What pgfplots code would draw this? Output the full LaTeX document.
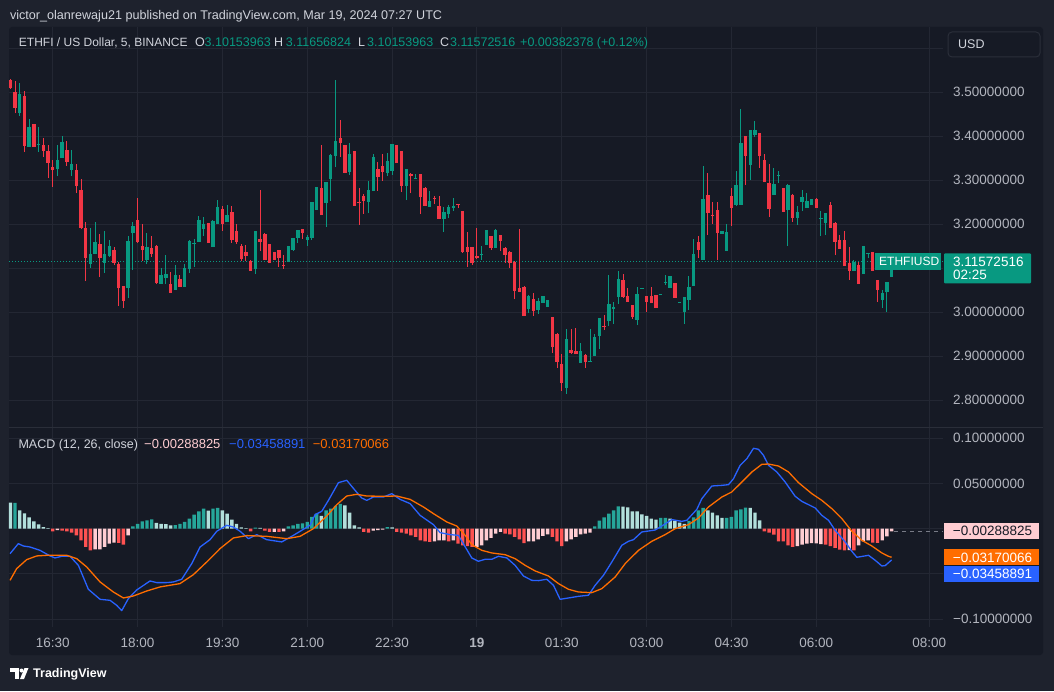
\documentclass[border=0pt]{standalone}
\usepackage{pgfplots}
\pgfplotsset{compat=1.18}
\usepackage{pgfplotstable}
\usepackage{fontspec}
\setmainfont{Liberation Sans}
\definecolor{bgouter}{HTML}{1E222D}
\definecolor{bgchart}{HTML}{161A25}
\definecolor{gridc}{HTML}{232733}
\definecolor{sepc}{HTML}{2A2E39}
\definecolor{axtext}{HTML}{B2B5BE}
\definecolor{hdr}{HTML}{D1D4DC}
\definecolor{tvgreen}{HTML}{089981}
\definecolor{tvred}{HTML}{F23645}
\definecolor{hG}{HTML}{26A69A}
\definecolor{hGL}{HTML}{B2DFDB}
\definecolor{hR}{HTML}{FF5252}
\definecolor{hRL}{HTML}{FFCDD2}
\definecolor{macdc}{HTML}{2962FF}
\definecolor{sigc}{HTML}{FF6D00}
\definecolor{dashc}{HTML}{787B86}

\pgfplotstableread{
n o h l c
3 3.454 3.521 3.447 3.496
5 3.376 3.439 3.376 3.422
7 3.381 3.421 3.364 3.383
11 3.326 3.380 3.310 3.346
12 3.351 3.401 3.351 3.387
14 3.324 3.369 3.310 3.337
18 3.110 3.192 3.101 3.133
19 3.133 3.205 3.133 3.160
21 3.112 3.185 3.089 3.133
22 3.128 3.164 3.126 3.151
26 3.055 3.174 3.033 3.162
27 3.180 3.205 3.096 3.196
30 3.119 3.180 3.110 3.148
33 3.064 3.101 3.064 3.085
34 3.078 3.130 3.064 3.087
36 3.051 3.108 3.051 3.085
38 3.058 3.110 3.058 3.101
39 3.099 3.164 3.089 3.162
40 3.156 3.167 3.103 3.157
41 3.160 3.219 3.160 3.210
42 3.189 3.217 3.174 3.201
44 3.148 3.210 3.148 3.208
45 3.201 3.255 3.201 3.239
47 3.205 3.244 3.205 3.221
53 3.099 3.185 3.087 3.185
60 3.114 3.151 3.114 3.151
61 3.142 3.169 3.139 3.169
62 3.169 3.187 3.158 3.187
64 3.164 3.176 3.151 3.171
65 3.169 3.251 3.164 3.251
66 3.233 3.285 3.233 3.285
68 3.249 3.296 3.194 3.296
69 3.303 3.360 3.253 3.358
70 3.355 3.528 3.330 3.389
73 3.319 3.385 3.312 3.360
77 3.251 3.299 3.226 3.278
78 3.276 3.360 3.276 3.353
81 3.317 3.362 3.310 3.344
82 3.322 3.383 3.312 3.383
85 3.287 3.326 3.255 3.326
87 3.304 3.314 3.303 3.305
90 3.239 3.276 3.239 3.253
93 3.212 3.239 3.183 3.228
94 3.224 3.244 3.215 3.239
95 3.237 3.260 3.230 3.242
101 3.130 3.151 3.119 3.133
102 3.153 3.187 3.153 3.187
104 3.146 3.189 3.146 3.187
111 3.008 3.039 2.999 3.037
113 3.005 3.033 2.996 3.026
114 3.021 3.037 3.021 3.037
115 3.012 3.028 3.012 3.028
119 2.828 2.962 2.814 2.939
122 2.885 2.930 2.885 2.912
124 2.888 2.962 2.887 2.889
125 2.901 2.951 2.901 2.944
126 2.946 2.987 2.917 2.987
128 2.980 3.085 2.969 3.019
129 3.008 3.024 2.974 3.012
130 3.035 3.094 3.019 3.076
134 2.983 3.058 2.971 3.042
135 3.054 3.056 3.053 3.055
139 3.040 3.041 3.040 3.041
140 3.066 3.085 3.062 3.069
141 3.055 3.083 3.055 3.083
143 3.023 3.024 3.023 3.024
144 3.001 3.035 2.974 3.035
145 3.028 3.083 3.005 3.058
146 3.060 3.167 3.060 3.133
148 3.119 3.333 3.119 3.258
152 3.178 3.185 3.178 3.185
153 3.139 3.201 3.139 3.183
155 3.244 3.321 3.242 3.289
156 3.244 3.462 3.244 3.385
158 3.335 3.414 3.301 3.414
159 3.403 3.435 3.399 3.414
163 3.267 3.328 3.267 3.292
164 3.311 3.321 3.294 3.312
166 3.233 3.292 3.151 3.289
168 3.215 3.242 3.199 3.228
169 3.251 3.278 3.230 3.262
170 3.237 3.271 3.237 3.253
171 3.244 3.258 3.244 3.258
173 3.213 3.230 3.174 3.215
174 3.203 3.226 3.176 3.226
180 3.094 3.119 3.094 3.114
182 3.087 3.151 3.087 3.151
183 3.133 3.135 3.124 3.135
186 3.028 3.051 3.010 3.044
187 3.046 3.069 3.001 3.069
188 3.080 3.117 3.080 3.116
}\upC

\pgfplotstableread{
n o h l c
1 3.528 3.530 3.508 3.509
2 3.501 3.526 3.452 3.465
4 3.492 3.503 3.364 3.378
6 3.428 3.428 3.376 3.376
8 3.380 3.396 3.353 3.367
9 3.367 3.380 3.305 3.339
10 3.330 3.346 3.285 3.324
13 3.369 3.389 3.333 3.342
15 3.324 3.337 3.271 3.287
16 3.278 3.303 3.189 3.192
17 3.192 3.205 3.071 3.124
20 3.155 3.178 3.080 3.124
23 3.142 3.148 3.108 3.112
24 3.110 3.114 3.014 3.055
25 3.060 3.060 3.010 3.026
28 3.210 3.260 3.158 3.160
29 3.151 3.201 3.117 3.142
31 3.146 3.173 3.126 3.133
32 3.151 3.153 3.064 3.067
35 3.064 3.092 3.044 3.044
37 3.076 3.085 3.058 3.058
43 3.203 3.203 3.158 3.158
46 3.235 3.242 3.185 3.201
48 3.228 3.242 3.158 3.164
49 3.185 3.201 3.155 3.160
50 3.151 3.155 3.117 3.121
51 3.137 3.153 3.117 3.128
52 3.117 3.119 3.094 3.094
54 3.167 3.278 3.139 3.160
55 3.178 3.180 3.119 3.119
56 3.155 3.155 3.112 3.112
57 3.137 3.137 3.119 3.119
58 3.142 3.142 3.103 3.124
59 3.108 3.130 3.099 3.106
63 3.189 3.189 3.167 3.180
67 3.283 3.380 3.221 3.221
71 3.396 3.437 3.353 3.385
72 3.380 3.380 3.317 3.317
74 3.367 3.367 3.242 3.242
75 3.251 3.283 3.199 3.249
76 3.264 3.269 3.224 3.253
79 3.326 3.342 3.276 3.308
80 3.333 3.360 3.299 3.319
83 3.380 3.380 3.339 3.339
84 3.367 3.367 3.274 3.287
86 3.314 3.317 3.271 3.310
88 3.314 3.314 3.224 3.262
89 3.283 3.285 3.242 3.242
91 3.260 3.264 3.246 3.259
92 3.242 3.264 3.212 3.212
96 3.246 3.246 3.237 3.244
97 3.230 3.230 3.135 3.137
98 3.148 3.183 3.103 3.137
99 3.148 3.148 3.108 3.112
100 3.128 3.192 3.121 3.124
103 3.174 3.174 3.142 3.146
105 3.176 3.176 3.139 3.162
106 3.146 3.148 3.112 3.130
107 3.137 3.139 3.101 3.112
108 3.114 3.117 3.030 3.049
109 3.055 3.189 3.046 3.046
110 3.058 3.060 2.992 2.992
112 3.030 3.044 2.992 3.003
116 2.989 2.989 2.908 2.921
117 2.951 2.953 2.874 2.887
118 2.883 2.905 2.821 2.839
120 2.914 2.962 2.905 2.908
121 2.912 2.964 2.905 2.905
123 2.903 2.905 2.874 2.887
127 2.969 2.994 2.960 2.967
131 3.074 3.087 3.033 3.035
132 3.037 3.055 3.024 3.024
133 3.017 3.017 2.985 2.989
136 3.037 3.037 3.001 3.024
137 3.037 3.058 3.021 3.021
138 3.039 3.039 3.010 3.010
142 3.067 3.067 3.033 3.033
147 3.160 3.174 3.124 3.142
149 3.267 3.317 3.176 3.226
150 3.221 3.251 3.201 3.219
151 3.233 3.251 3.119 3.180
154 3.264 3.283 3.196 3.237
157 3.401 3.401 3.289 3.355
160 3.408 3.408 3.328 3.355
161 3.346 3.360 3.296 3.296
162 3.294 3.337 3.217 3.235
165 3.283 3.283 3.228 3.228
167 3.267 3.269 3.205 3.215
172 3.258 3.260 3.237 3.237
175 3.244 3.251 3.192 3.192
176 3.203 3.205 3.130 3.160
177 3.164 3.176 3.144 3.144
178 3.164 3.185 3.105 3.105
179 3.112 3.148 3.074 3.094
181 3.108 3.114 3.064 3.064
184 3.137 3.137 3.094 3.094
185 3.074 3.074 3.024 3.051
}\downC

\pgfplotstableread{
n v
2 0.0284
27 0.0026
28 0.0052
29 0.0081
30 0.0092
31 0.0103
36 0.0040
37 0.0052
38 0.0074
39 0.0111
40 0.0155
41 0.0192
42 0.0221
44 0.0221
45 0.0229
53 0.0011
60 0.0026
61 0.0037
62 0.0052
63 0.0059
64 0.0074
65 0.0129
66 0.0166
68 0.0203
69 0.0221
70 0.0251
71 0.0273
81 0.0018
125 0.0026
126 0.0088
127 0.0125
128 0.0166
129 0.0203
130 0.0247
139 0.0118
140 0.0120
145 0.0085
146 0.0125
147 0.0203
148 0.0229
153 0.0120
154 0.0129
155 0.0203
156 0.0214
157 0.0232
}\histG

\pgfplotstableread{
n v
1 0.0288
3 0.0203
4 0.0170
5 0.0125
6 0.0081
7 0.0048
8 0.0018
9 0.0007
32 0.0063
33 0.0052
34 0.0050
35 0.0037
43 0.0199
46 0.0203
47 0.0166
48 0.0100
49 0.0052
50 0.0015
51 0.0007
54 0.0009
67 0.0140
72 0.0258
73 0.0177
74 0.0037
75 0.0015
82 0.0015
131 0.0245
132 0.0236
133 0.0192
134 0.0190
135 0.0159
136 0.0140
137 0.0111
138 0.0100
141 0.0111
142 0.0085
143 0.0066
144 0.0052
149 0.0203
150 0.0177
151 0.0148
152 0.0118
158 0.0230
159 0.0177
160 0.0092
}\histGL

\pgfplotstableread{
n v
10 -0.0029
12 -0.0022
13 -0.0029
14 -0.0044
15 -0.0074
16 -0.0129
17 -0.0203
18 -0.0240
24 -0.0158
25 -0.0177
52 -0.0029
55 -0.0022
56 -0.0037
58 -0.0037
76 -0.0037
77 -0.0044
83 -0.0037
84 -0.0044
85 -0.0055
86 -0.0074
87 -0.0092
88 -0.0129
89 -0.0140
90 -0.0147
94 -0.0140
96 -0.0166
97 -0.0184
98 -0.0192
99 -0.0203
106 -0.0055
107 -0.0063
108 -0.0092
109 -0.0118
110 -0.0159
116 -0.0092
117 -0.0140
118 -0.0192
161 -0.0029
162 -0.0044
163 -0.0066
164 -0.0140
165 -0.0142
166 -0.0184
167 -0.0203
174 -0.0177
175 -0.0192
176 -0.0214
177 -0.0232
178 -0.0240
180 -0.0240
184 -0.0155
185 -0.0157
}\histR

\pgfplotstableread{
n v
11 -0.0015
19 -0.0229
20 -0.0229
21 -0.0203
22 -0.0166
23 -0.0155
26 -0.0074
57 -0.0035
59 -0.0029
78 -0.0022
79 -0.0015
80 -0.0011
91 -0.0140
92 -0.0129
93 -0.0129
95 -0.0129
100 -0.0203
101 -0.0184
102 -0.0129
103 -0.0103
104 -0.0055
105 -0.0037
111 -0.0140
112 -0.0140
113 -0.0118
114 -0.0081
115 -0.0063
119 -0.0140
120 -0.0118
121 -0.0092
122 -0.0063
123 -0.0055
124 -0.0044
168 -0.0192
169 -0.0177
170 -0.0166
171 -0.0159
172 -0.0162
173 -0.0170
179 -0.0238
181 -0.0184
182 -0.0140
183 -0.0129
186 -0.0129
187 -0.0085
188 -0.0029
}\histRL

\pgfplotstableread{
n v
0.94 -0.0277
2.70 -0.0166
3.77 -0.0192
5.18 -0.0203
7.30 -0.0240
9.43 -0.0302
10.49 -0.0324
11.90 -0.0306
13.67 -0.0306
15.44 -0.0406
17.56 -0.0671
20.04 -0.0782
22.16 -0.0793
23.57 -0.0848
24.64 -0.0907
26.05 -0.0774
27.82 -0.0678
30.65 -0.0579
32.06 -0.0597
34.18 -0.0597
35.60 -0.0590
37.37 -0.0560
39.49 -0.0387
41.26 -0.0203
43.38 -0.0122
44.80 -0.0029
46.92 0.0037
48.33 0.0018
49.75 -0.0029
51.52 -0.0111
53.29 -0.0066
55.41 -0.0122
58.59 -0.0147
61.07 -0.0074
63.19 -0.0007
64.60 0.0037
65.67 0.0155
67.08 0.0192
68.50 0.0313
70.62 0.0509
72.38 0.0535
74.15 0.0424
75.57 0.0339
76.63 0.0313
78.04 0.0350
80.17 0.0350
81.94 0.0387
83.70 0.0324
85.83 0.0277
87.95 0.0147
90.78 0.0044
92.19 -0.0044
94.31 -0.0066
96.08 -0.0074
97.50 -0.0200
98.91 -0.0324
100.33 -0.0361
101.74 -0.0339
103.16 -0.0339
104.57 -0.0306
106.34 -0.0324
108.11 -0.0406
109.88 -0.0524
111.65 -0.0572
113.06 -0.0575
114.83 -0.0560
116.25 -0.0627
117.66 -0.0782
119.43 -0.0767
121.55 -0.0749
123.67 -0.0737
125.09 -0.0627
126.86 -0.0516
128.63 -0.0369
130.75 -0.0184
132.16 -0.0140
133.22 -0.0122
134.99 -0.0037
137.82 -0.0015
139.24 0.0029
141.36 0.0100
143.48 0.0081
144.54 0.0092
146.67 0.0214
147.73 0.0332
149.85 0.0472
151.97 0.0479
153.39 0.0487
154.45 0.0553
155.86 0.0701
157.28 0.0774
158.69 0.0889
159.75 0.0878
160.81 0.0811
161.88 0.0701
163.64 0.0627
165.41 0.0516
167.53 0.0358
168.95 0.0302
171.78 0.0229
173.19 0.0147
174.61 0.0092
176.02 -0.0018
178.15 -0.0147
179.56 -0.0251
180.62 -0.0317
183.10 -0.0295
184.51 -0.0350
185.93 -0.0413
186.63 -0.0409
188.00 -0.0346
}\macdT

\pgfplotstableread{
n v
0.94 -0.0572
2.35 -0.0442
4.47 -0.0343
6.60 -0.0302
8.72 -0.0295
12.96 -0.0295
15.09 -0.0332
17.21 -0.0424
20.04 -0.0590
22.87 -0.0701
24.99 -0.0767
27.11 -0.0745
29.94 -0.0690
32.77 -0.0645
37.01 -0.0608
39.84 -0.0509
42.67 -0.0369
45.50 -0.0221
48.33 -0.0103
51.16 -0.0077
55.41 -0.0085
59.65 -0.0111
62.48 -0.0085
65.31 0.0000
68.14 0.0140
70.26 0.0265
72.38 0.0361
74.51 0.0380
76.63 0.0361
80.17 0.0358
82.99 0.0361
85.83 0.0324
88.65 0.0240
90.78 0.0166
93.61 0.0074
95.73 0.0029
97.50 -0.0074
98.91 -0.0177
101.04 -0.0240
103.16 -0.0269
105.99 -0.0288
108.11 -0.0332
110.23 -0.0406
112.36 -0.0468
115.19 -0.0524
117.31 -0.0608
119.43 -0.0671
121.55 -0.0701
124.38 -0.0708
126.50 -0.0664
129.33 -0.0535
131.46 -0.0387
134.29 -0.0240
137.11 -0.0140
139.94 -0.0066
142.07 0.0000
144.90 0.0044
147.02 0.0118
149.14 0.0240
151.97 0.0350
154.09 0.0406
156.22 0.0516
158.34 0.0627
160.46 0.0712
161.88 0.0715
164.00 0.0693
166.12 0.0627
168.24 0.0509
171.07 0.0387
173.19 0.0313
175.32 0.0221
177.44 0.0111
179.56 -0.0029
181.68 -0.0129
183.81 -0.0192
185.93 -0.0269
187.34 -0.0306
188.00 -0.0317
}\sigT

\newcommand{\fs}[1]{\fontsize{#1}{#1}\selectfont}

\begin{document}
\begin{tikzpicture}[x=1pt,y=1pt]
% backgrounds
\fill[bgouter] (0,0) rectangle (1054,691);
\fill[bgchart, rounded corners=3pt] (9,36) rectangle (1043,664);

% ---------------- main price pane ----------------
\begin{axis}[
  at={(9pt,263.3pt)}, anchor=south west, scale only axis,
  width=934pt, height=400.7pt,
  xmin=0.72, xmax=198.9, ymin=2.7377, ymax=3.6484,
  axis line style={draw=none}, major tick length=0pt,
  xtick={10,28,46,64,82,100,118,136,154,172,196}, xticklabel=\empty,
  ytick={2.8,2.9,3.0,3.1,3.2,3.3,3.4,3.5,3.6},
  yticklabels={2.80000000,2.90000000,3.00000000,{},3.20000000,3.30000000,3.40000000,3.50000000,{}},
  yticklabel pos=right,
  yticklabel style={font=\fs{13.5}, text=axtext, anchor=west, inner sep=0pt, xshift=10pt},
  grid=major, grid style={gridc, line width=1pt},
  candle/.style={draw=none, mark=none, forget plot, error bars/.cd, y dir=plus, y explicit, error mark=none},
]
\addplot[tvgreen, line width=1pt, dash pattern=on 1pt off 2pt] coordinates {(0.72,3.1157) (198.9,3.1157)};
% wicks
\addplot[candle, error bar style={line width=1pt, draw=tvgreen}]
  table[x=n, y=l, y error plus expr=\thisrow{h}-\thisrow{l}] \upC;
\addplot[candle, error bar style={line width=1pt, draw=tvred}]
  table[x=n, y=l, y error plus expr=\thisrow{h}-\thisrow{l}] \downC;
% bodies
\addplot[candle, error bar style={line width=3.4pt, draw=tvgreen}]
  table[x=n, y=o, y error plus expr=\thisrow{c}-\thisrow{o}] \upC;
\addplot[candle, error bar style={line width=3.4pt, draw=tvred}]
  table[x=n, y=c, y error plus expr=\thisrow{o}-\thisrow{c}] \downC;
\end{axis}

% ---------------- MACD pane ----------------
\begin{axis}[
  at={(9pt,64.3pt)}, anchor=south west, scale only axis,
  width=934pt, height=199pt,
  xmin=0.72, xmax=198.9, ymin=-0.1085, ymax=0.1117,
  axis line style={draw=none}, major tick length=0pt,
  xtick={10,28,46,64,82,100,118,136,154,172,196},
  xticklabels={16:30,18:00,19:30,21:00,22:30,\textbf{19},01:30,03:00,04:30,06:00,08:00},
  xticklabel style={font=\fs{13.5}, text=axtext, anchor=base, inner sep=0pt, yshift=-21pt},
  ytick={-0.1,-0.05,0,0.05,0.1},
  yticklabels={−0.10000000,{},{},0.05000000,0.10000000},
  yticklabel pos=right,
  yticklabel style={font=\fs{13.5}, text=axtext, anchor=west, inner sep=0pt, xshift=10pt},
  grid=major, grid style={gridc, line width=1pt},
]
\addplot[ybar, bar width=3.4pt, bar shift=0pt, fill=hG, draw=none] table[x=n,y=v] \histG;
\addplot[ybar, bar width=3.4pt, bar shift=0pt, fill=hGL, draw=none] table[x=n,y=v] \histGL;
\addplot[ybar, bar width=3.4pt, bar shift=0pt, fill=hR, draw=none] table[x=n,y=v] \histR;
\addplot[ybar, bar width=3.4pt, bar shift=0pt, fill=hRL, draw=none] table[x=n,y=v] \histRL;
\addplot[dashc, line width=1pt, dash pattern=on 4pt off 4pt] coordinates {(188.6,-0.0029) (198.9,-0.0029)};
\addplot[macdc, line width=1.3pt, line join=round] table[x=n,y=v] \macdT;
\addplot[sigc, line width=1.3pt, line join=round] table[x=n,y=v] \sigT;
\end{axis}

% pane separator
\draw[sepc, line width=1pt] (9,263.3) -- (1043,263.3);

% ---------------- header texts ----------------
\node[anchor=base west, inner sep=0pt, text=hdr, font=\fs{12.6}] at (9.8,671.5)
  {victor\_olanrewaju21 published on TradingView.com, Mar 19, 2024 07:27 UTC};
\node[anchor=base west, inner sep=0pt, text=hdr, font=\fs{12}] at (18.75,644.6) {ETHFI / US Dollar, 5, BINANCE};
\node[anchor=base west, inner sep=0pt, text=hdr, font=\fs{12.5}] at (195,644.6) {O};
\node[anchor=base west, inner sep=0pt, text=tvgreen, font=\fs{12.5}] at (204.5,644.6) {3.10153963};
\node[anchor=base west, inner sep=0pt, text=hdr, font=\fs{12.5}] at (274,644.6) {H};
\node[anchor=base west, inner sep=0pt, text=tvgreen, font=\fs{12.5}] at (285.7,644.6) {3.11656824};
\node[anchor=base west, inner sep=0pt, text=hdr, font=\fs{12.5}] at (358,644.6) {L};
\node[anchor=base west, inner sep=0pt, text=tvgreen, font=\fs{12.5}] at (367,644.6) {3.10153963};
\node[anchor=base west, inner sep=0pt, text=hdr, font=\fs{12.5}] at (440,644.6) {C};
\node[anchor=base west, inner sep=0pt, text=tvgreen, font=\fs{12.5}] at (450,644.6) {3.11572516};
\node[anchor=base west, inner sep=0pt, text=tvgreen, font=\fs{12.5}] at (520,644.6) {+0.00382378 (+0.12\%)};

% USD button
\draw[sepc, fill=bgchart, line width=1pt, rounded corners=4pt] (948,634) rectangle (1040,659);
\node[anchor=base west, inner sep=0pt, text=hdr, font=\fs{12.5}] at (958,642) {USD};

% MACD legend
\node[anchor=base west, inner sep=0pt, text=hdr, font=\fs{12.5}] at (18.3,242.6) {MACD (12, 26, close)};
\node[anchor=base west, inner sep=0pt, text=hRL, font=\fs{13}] at (144,242.6) {−0.00288825};
\node[anchor=base west, inner sep=0pt, text=macdc, font=\fs{13}] at (229,242.6) {−0.03458891};
\node[anchor=base west, inner sep=0pt, text=sigc, font=\fs{13}] at (312.7,242.6) {−0.03170066};

% price labels
\fill[tvgreen] (875,421) rectangle (941,438);
\node[anchor=base west, inner sep=0pt, text=white, font=\fs{12}] at (879,425) {ETHFIUSD};
\fill[tvgreen, rounded corners=1pt] (944,407.7) rectangle (1031,437.7);
\node[anchor=base west, inner sep=0pt, text=white, font=\fs{13.5}] at (953,424.5) {3.11572516};
\node[anchor=base west, inner sep=0pt, text=white, font=\fs{13.5}] at (953,411) {02:25};

% MACD value labels
\fill[hRL] (944,151.7) rectangle (1038.7,168.3);
\node[anchor=base west, inner sep=0pt, text=bgchart, font=\fs{13.5}] at (952.7,155.2) {−0.00288825};
\fill[sigc] (944,125.7) rectangle (1038.7,142);
\node[anchor=base west, inner sep=0pt, text=white, font=\fs{13.5}] at (952.7,129) {−0.03170066};
\fill[macdc] (944,108.7) rectangle (1038.7,125.3);
\node[anchor=base west, inner sep=0pt, text=white, font=\fs{13.5}] at (952.7,112.2) {−0.03458891};

% footer logo
\fill[white] (10,19) rectangle (19,23);
\fill[white] (15,12) rectangle (19,19);
\fill[white] (21.5,20.5) circle (2);
\fill[white] (20,12) -- (24,12) -- (28.5,23) -- (24.5,23) -- cycle;
\node[anchor=base west, inner sep=0pt, text=white, font=\fs{12.5}\bfseries] at (33,13.5) {TradingView};
\end{tikzpicture}
\end{document}
